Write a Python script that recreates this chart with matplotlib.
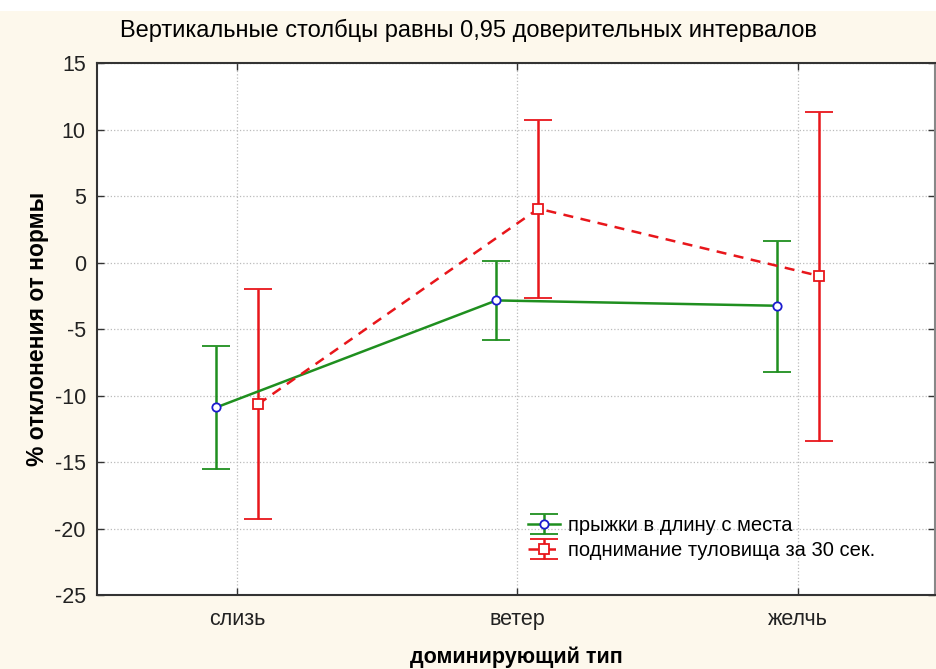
import numpy as np
import matplotlib
matplotlib.use("Agg")
import matplotlib.pyplot as plt
from matplotlib.patches import Rectangle

plt.rcParams['font.family'] = ['Liberation Sans', 'DejaVu Sans']
plt.rcParams['axes.unicode_minus'] = False

types = ["слизь", "ветер", "желчь"]
jump_mean = [-10.9, -2.85, -3.25]
jump_low = [-15.55, -5.8, -8.2]
jump_high = [-6.25, 0.1, 1.6]
situp_mean = [-10.65, 4.05, -1.0]
situp_low = [-19.3, -2.65, -13.45]
situp_high = [-2.0, 10.7, 11.3]

green = "#1f8f1f"
red = "#e8161b"
blue = "#1c1ccf"

fig = plt.figure(figsize=(9.36, 6.69), dpi=100, facecolor="#fdf8ec")
# white strip along the top edge
fig.add_artist(Rectangle((0, 0.983), 1, 0.02, transform=fig.transFigure,
                         facecolor="white", edgecolor="none", zorder=-1))
ax = fig.add_axes([0.1036, 0.1106, 0.8954, 0.7952])

x = np.arange(len(types))
off = 0.075

jm = np.array(jump_mean)
sm = np.array(situp_mean)
ax.errorbar(x - off, jm, yerr=[jm - np.array(jump_low), np.array(jump_high) - jm],
            color=green, lw=1.8, capsize=10, capthick=1.8,
            marker="o", ms=6, mfc="white", mec=blue, mew=1.3,
            label="прыжки в длину с места", zorder=3)
ax.errorbar(x + off, sm, yerr=[sm - np.array(situp_low), np.array(situp_high) - sm],
            color=red, lw=1.8, ls="--", dashes=(4, 3), capsize=10, capthick=1.8,
            marker="s", ms=7, mfc="white", mec=red, mew=1.3,
            label="поднимание туловища за 30 сек.", zorder=3)

ax.set_xlim(-0.5, 2.49)
ax.set_ylim(-25, 15)
ax.set_yticks(np.arange(-25, 16, 5))
ax.set_xticks(x)
ax.set_xticklabels(types)
ax.grid(True, color="#bbbbbb", ls=":", lw=0.9)
ax.tick_params(direction="in", top=True, right=True, length=5, width=1,
               labelsize=15.5, colors="#333333", labelcolor="#222222")
ax.tick_params(axis="x", pad=10)
ax.tick_params(axis="y", pad=8)
for s in ax.spines.values():
    s.set_color("#333333")
    s.set_linewidth(1.5)
ax.spines["right"].set_color("#888888")

ax.set_xlabel("доминирующий тип", fontsize=15.5, fontweight="bold", labelpad=12)
ax.set_ylabel("% отклонения от нормы", fontsize=16.5, fontweight="bold", labelpad=4)
fig.text(0.5, 0.955, "Вертикальные столбцы равны 0,95 доверительных интервалов",
         ha="center", va="center", fontsize=17)

ax.legend(loc="lower left", bbox_to_anchor=(0.505, 0.05), frameon=False,
          fontsize=14.5, handlelength=1.6, handletextpad=0.35, labelspacing=0.3,
          borderaxespad=0)

plt.savefig("out.png", dpi=100, facecolor=fig.get_facecolor())
